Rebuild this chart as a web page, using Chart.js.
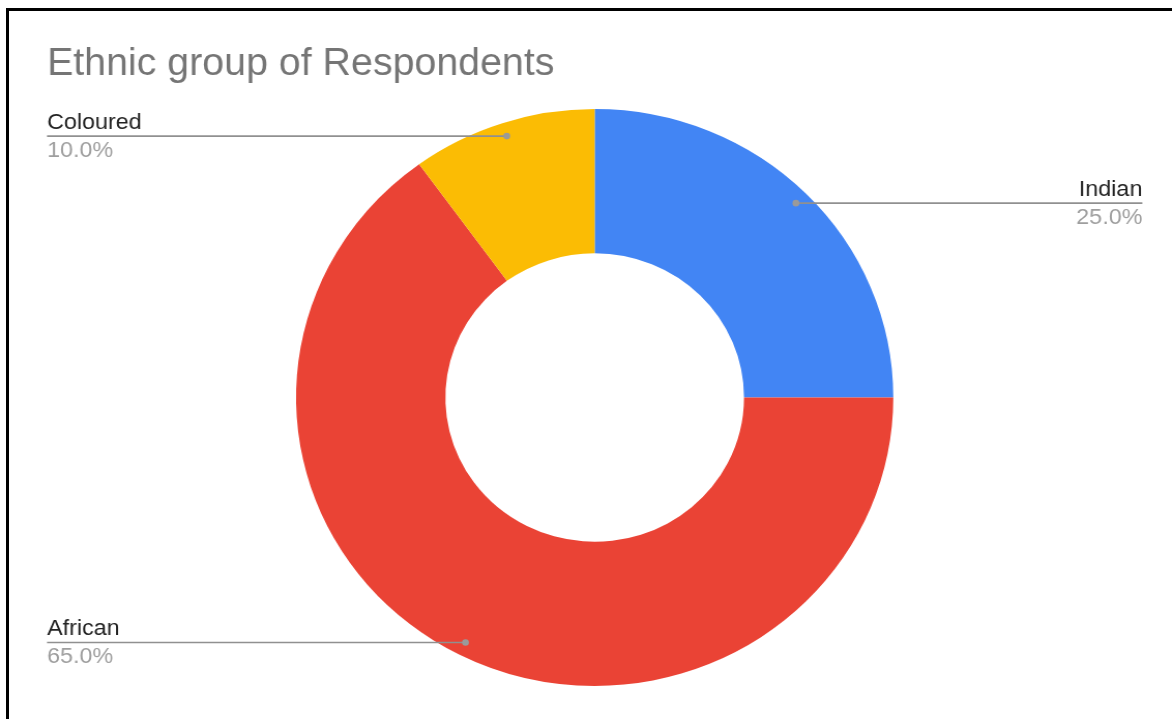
<!DOCTYPE html>
<html>
<head>
<meta charset="utf-8">
<script src="https://cdn.jsdelivr.net/npm/chart.js@4.4.1/dist/chart.umd.min.js"></script>
<style>
  html, body { margin: 0; padding: 0; background: #ffffff; overflow: hidden; }
  body { width: 1172px; height: 719px; position: relative; }
  /* the source picture is a little wider than tall, so the chart is drawn
     narrower and stretched back out */
  #wrap {
    position: absolute; left: 0; top: 0;
    width: 1132px; height: 719px;
    transform: scaleX(1.0353); transform-origin: 0 0;
  }
  #frame {
    position: absolute; left: 6px; top: 8px;
    width: 1200px; height: 760px;
    border-top: 3px solid #000; border-left: 3px solid #000;
    pointer-events: none;
  }
</style>
</head>
<body>
<div id="wrap"><canvas id="etnia"></canvas></div>
<div id="frame"></div>
<script>
  const chartTitle = 'Ethnic group of Respondents';
  const categories = ['Indian', 'African', 'Coloured'];
  const shares = [25, 65, 10];
  const sliceColours = ['#4285f4', '#ea4335', '#fbbc04'];

  const FONT = '"Liberation Sans", Arial, sans-serif';

  /* rótulos com linha-guia, como no Google Charts */
  const leaderLabels = {
    id: 'leaderLabels',
    afterDatasetsDraw: function (chart) {
      const ctx = chart.ctx;
      const area = chart.chartArea;
      const meta = chart.getDatasetMeta(0);
      const total = shares.reduce(function (s, v) { return s + v; }, 0);

      meta.data.forEach(function (arc, i) {
        const p = arc.getProps(['x', 'y', 'startAngle', 'endAngle', 'outerRadius'], true);
        const mid = (p.startAngle + p.endAngle) / 2;
        const r = p.outerRadius * 0.953;
        const dx = p.x + Math.cos(mid) * r;
        const dy = p.y + Math.sin(mid) * r;
        const right = Math.cos(mid) > 0;
        const edge = right ? area.right : area.left;

        ctx.save();
        ctx.strokeStyle = '#909090';
        ctx.lineWidth = 1.6;
        ctx.beginPath();
        ctx.moveTo(edge, dy);
        ctx.lineTo(dx, dy);
        ctx.stroke();

        ctx.fillStyle = '#9a9a9a';
        ctx.beginPath();
        ctx.arc(dx, dy, 3.3, 0, Math.PI * 2);
        ctx.fill();

        ctx.textAlign = right ? 'right' : 'left';
        ctx.textBaseline = 'alphabetic';
        ctx.font = '22.5px ' + FONT;
        ctx.fillStyle = '#222222';
        ctx.fillText(categories[i], edge, dy - 7);
        ctx.fillStyle = '#9e9e9e';
        ctx.fillText((shares[i] / total * 100).toFixed(1) + '%', edge, dy + 21);
        ctx.restore();
      });
    }
  };

  new Chart(document.getElementById('etnia'), {
    type: 'doughnut',
    data: {
      labels: categories,
      datasets: [{
        data: shares,
        backgroundColor: sliceColours,
        borderWidth: 0,
        hoverOffset: 0
      }]
    },
    options: {
      responsive: true,
      maintainAspectRatio: false,
      animation: false,
      cutout: '50%',
      layout: { padding: { left: 45.4, right: 28.6, top: 0, bottom: 33 } },
      plugins: {
        legend: { display: false },
        tooltip: { enabled: false },
        title: {
          display: true,
          text: chartTitle,
          align: 'start',
          color: '#757575',
          font: { size: 38, family: FONT, weight: 'normal' },
          padding: { top: 42, bottom: 21.5 }
        }
      }
    },
    plugins: [leaderLabels]
  });
</script>
</body>
</html>
